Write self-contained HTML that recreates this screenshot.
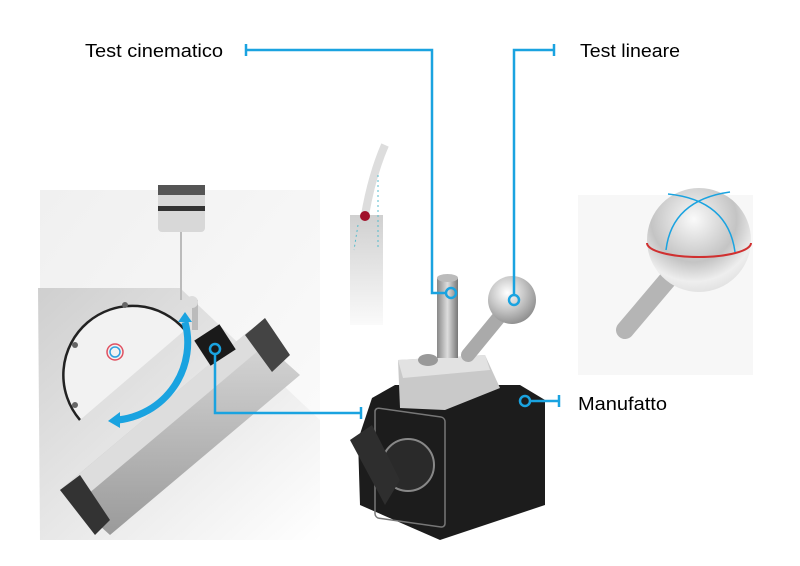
<!DOCTYPE html>
<html><head><meta charset="utf-8"><style>
html,body{margin:0;padding:0;background:#fff;}
svg{display:block;}
text{font-family:"Liberation Sans",sans-serif;fill:#000;}
</style></head><body>
<svg width="800" height="566" viewBox="0 0 800 566" xmlns="http://www.w3.org/2000/svg">
<defs>
<linearGradient id="bg1" x1="0" y1="0" x2="1" y2="1"><stop offset="0" stop-color="#e6e6e6"/><stop offset="1" stop-color="#fafafa"/></linearGradient>
<linearGradient id="gr" x1="0" y1="0" x2="1" y2="1"><stop offset="0" stop-color="#cfcfcf"/><stop offset="0.6" stop-color="#ececec"/><stop offset="1" stop-color="#fff"/></linearGradient>
<linearGradient id="bar" x1="0" y1="0" x2="0" y2="1"><stop offset="0" stop-color="#d9d9d9"/><stop offset="1" stop-color="#9a9a9a"/></linearGradient>
<linearGradient id="strip" x1="0" y1="0" x2="0" y2="1"><stop offset="0" stop-color="#d0d0d0"/><stop offset="1" stop-color="#fafafa"/></linearGradient>
<radialGradient id="ball" cx="0.4" cy="0.35" r="0.7"><stop offset="0" stop-color="#fff"/><stop offset="0.5" stop-color="#c8c8c8"/><stop offset="1" stop-color="#8a8a8a"/></radialGradient>
<radialGradient id="ball2" cx="0.45" cy="0.3" r="0.75"><stop offset="0" stop-color="#fafafa"/><stop offset="0.55" stop-color="#c4c4c4"/><stop offset="0.8" stop-color="#eee"/><stop offset="1" stop-color="#ddd"/></radialGradient>
<linearGradient id="pin" x1="0" y1="0" x2="1" y2="0"><stop offset="0" stop-color="#888"/><stop offset="0.5" stop-color="#ddd"/><stop offset="1" stop-color="#777"/></linearGradient>
</defs>
<!-- left machine -->
<rect x="40" y="190" width="280" height="350" fill="url(#bg1)" opacity="0.6"/>
<polygon points="38,288 180,288 320,420 320,540 40,540" fill="url(#gr)"/>
<path d="M80,420 A62,62 0 1 1 185,330" fill="#f2f2f2" stroke="#222" stroke-width="2.5"/>
<circle cx="75" cy="345" r="3" fill="#666"/><circle cx="125" cy="305" r="3" fill="#666"/><circle cx="75" cy="405" r="3" fill="#666"/>
<circle cx="115" cy="352" r="8" fill="none" stroke="#e05060" stroke-width="1.5"/><circle cx="115" cy="352" r="5" fill="none" stroke="#30a0e0" stroke-width="1.5"/>
<polygon points="60,490 250,330 300,375 110,535" fill="url(#bar)"/>
<polygon points="60,490 250,330 265,345 75,505" fill="#ddd"/>
<polygon points="60,490 80,475 110,520 95,535" fill="#333"/>
<polygon points="245,335 265,318 290,355 272,372" fill="#444"/>
<rect x="200" y="330" width="30" height="30" fill="#1a1a1a" transform="rotate(-33 215 345)"/>
<rect x="192" y="300" width="6" height="30" fill="#bbb"/><circle cx="192" cy="302" r="6" fill="#ddd"/>
<!-- probe -->
<rect x="158" y="185" width="47" height="47" rx="4" fill="#d8d8d8"/>
<rect x="158" y="185" width="47" height="10" fill="#555"/><rect x="158" y="206" width="47" height="5" fill="#333"/>
<line x1="181" y1="232" x2="181" y2="300" stroke="#bbb" stroke-width="2"/>
<path d="M185,322 A78,78 0 0 1 118,420" fill="none" stroke="#1aa3e0" stroke-width="7"/>
<polygon points="178,322 192,322 185,312" fill="#1aa3e0"/>
<polygon points="120,412 120,428 108,421" fill="#1aa3e0"/>
<!-- middle strip -->
<rect x="350" y="215" width="33" height="110" fill="url(#strip)"/>
<path d="M365,215 Q372,175 385,145" stroke="#ddd" stroke-width="8" fill="none"/>
<circle cx="365" cy="216" r="5" fill="#a0102a"/>
<line x1="358" y1="225" x2="354" y2="250" stroke="#5bc" stroke-dasharray="2,3"/>
<line x1="378" y1="175" x2="378" y2="250" stroke="#5bc" stroke-dasharray="2,3"/>
<!-- magnetic base -->
<polygon points="372,398 395,385 520,385 545,400 545,505 440,540 360,505 358,440" fill="#1c1c1c"/>
<rect x="375" y="410" width="70" height="110" rx="4" fill="none" stroke="#777" stroke-width="1.5" transform="skewY(8) translate(0,-55)"/>
<circle cx="408" cy="465" r="26" fill="#2a2a2a" stroke="#888" stroke-width="2"/>
<polygon points="350,440 372,425 400,480 385,505" fill="#2e2e2e"/>
<polygon points="398,360 485,355 500,388 445,410 400,408" fill="#c9c9c9"/>
<polygon points="398,360 485,355 490,370 403,378" fill="#e2e2e2"/>
<ellipse cx="428" cy="360" rx="10" ry="6" fill="#999"/>
<rect x="437" y="278" width="21" height="80" fill="url(#pin)"/>
<ellipse cx="447.5" cy="278" rx="10.5" ry="4" fill="#bbb"/>
<line x1="468" y1="355" x2="505" y2="310" stroke="#aaa" stroke-width="14" stroke-linecap="round"/>
<circle cx="512" cy="300" r="24" fill="url(#ball)"/>
<!-- right ball -->
<rect x="578" y="195" width="175" height="180" fill="#f7f7f7"/>
<line x1="625" y1="330" x2="680" y2="265" stroke="#b5b5b5" stroke-width="18" stroke-linecap="round"/>
<circle cx="699" cy="240" r="52" fill="url(#ball2)"/>
<path d="M647,243 A52,14 0 0 0 751,243" fill="none" stroke="#d03030" stroke-width="2"/>
<path d="M666,250 Q672,200 730,192" fill="none" stroke="#1aa3e0" stroke-width="1.5"/>
<path d="M735,252 Q728,200 668,194" fill="none" stroke="#1aa3e0" stroke-width="1.5"/>
<!-- connectors -->
<g fill="none" stroke="#1aa3e0" stroke-width="2.5">
<polyline points="246,50 432,50 432,293 446,293"/>
<line x1="246" y1="44" x2="246" y2="56"/>
<circle cx="451" cy="293" r="5"/>
<polyline points="554,50 514,50 514,295"/>
<line x1="554" y1="44" x2="554" y2="56"/>
<circle cx="514" cy="300" r="5"/>
<line x1="530" y1="401" x2="559" y2="401"/>
<line x1="559" y1="395" x2="559" y2="407"/>
<circle cx="525" cy="401" r="5"/>
<polyline points="215,354 215,413 361,413"/>
<line x1="361" y1="407" x2="361" y2="419"/>
<circle cx="215" cy="349" r="5"/>
</g>
<text x="85" y="57" font-size="18" textLength="138" lengthAdjust="spacingAndGlyphs">Test cinematico</text>
<text x="580" y="57" font-size="18" textLength="100" lengthAdjust="spacingAndGlyphs">Test lineare</text>
<text x="578" y="410" font-size="18" textLength="89" lengthAdjust="spacingAndGlyphs">Manufatto</text>
</svg>
</body></html>
